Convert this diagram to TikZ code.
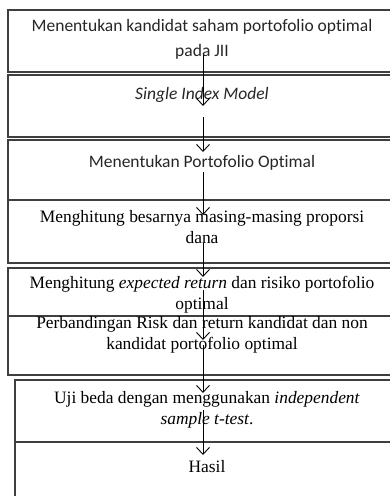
\documentclass[tikz,border=0pt]{standalone}
\usepackage{fontspec}
\setmainfont{Liberation Serif}
\newfontfamily\calibri[Ligatures=NoCommon]{Carlito}
\usetikzlibrary{arrows.meta}
\definecolor{boxgray}{HTML}{3F3F3F}
\definecolor{textgray}{HTML}{262626}

\begin{document}
\begin{tikzpicture}[x=1pt,y=-1pt,
    box/.style={draw=boxgray,line width=1.1pt},
    sanslabel/.style={font=\calibri\fontsize{17.5}{25}\selectfont,text=textgray,align=center,inner sep=0pt},
    seriflabel/.style={font=\fontsize{17.4}{21}\selectfont,align=center,inner sep=0pt},
    flow/.style={draw=black,line width=0.9pt,-{Straight Barb[length=7pt,width=13pt]}}]
                \clip (0,0) rectangle (390,496);
                \draw[box] (8,10) rectangle (397,72);
                \draw[box] (8,75) rectangle (397,137);
                \draw[box] (8,140) rectangle (397,263);
                \draw[box] (8,200) -- (397,200);
                \draw[box] (8,268) rectangle (397,375);
                \draw[box] (8,316) -- (397,316);
                \draw[box] (15,380) rectangle (399,520);
                \draw[box] (15,442) -- (399,442);
                \node[sanslabel] (kandidat) at (202,39.5) {Menentukan kandidat saham portofolio optimal\\pada JII};
                \node[sanslabel] (sim) at (202,95) {\itshape Single Index Model};
                \node[sanslabel] (optimal) at (202,163) {Menentukan Portofolio Optimal};
                \node[seriflabel] (proporsi) at (202,227.5) {Menghitung besarnya masing-masing proporsi\\dana};
                \node[seriflabel] (expret) at (202,295) {Menghitung \textit{expected return} dan risiko portofolio\\optimal};
                \node[seriflabel] (banding) at (202,334.5) {Perbandingan Risk dan return kandidat dan non\\kandidat portofolio optimal};
                \node[seriflabel] (ujibeda) at (207,410) {Uji beda dengan menggunakan \textit{independent}\\\textit{sample t-test}.};
                \node[seriflabel] (hasil) at (207,467) {Hasil};
                \coordinate (a1s) at (203,55);
                \coordinate (a1e) at (203,106);
                \coordinate (a2s) at (203,117);
                \coordinate (a2e) at (203,152);
                \coordinate (a3s) at (203,172);
                \coordinate (a3e) at (203,215);
                \coordinate (a4s) at (203,243);
                \coordinate (a4e) at (203,277);
                \coordinate (a5s) at (203,290);
                \coordinate (a5e) at (203,340);
                \coordinate (a6s) at (203,345);
                \coordinate (a6e) at (203,393);
                \coordinate (a7s) at (203,410);
                \coordinate (a7e) at (203,455);
                \draw[flow] (a1s) -- (a1e);
                \draw[flow] (a2s) -- (a2e);
                \draw[flow] (a3s) -- (a3e);
                \draw[flow] (a4s) -- (a4e);
                \draw[flow] (a5s) -- (a5e);
                \draw[flow] (a6s) -- (a6e);
                \draw[flow] (a7s) -- (a7e);
            \end{tikzpicture}
\end{document}
